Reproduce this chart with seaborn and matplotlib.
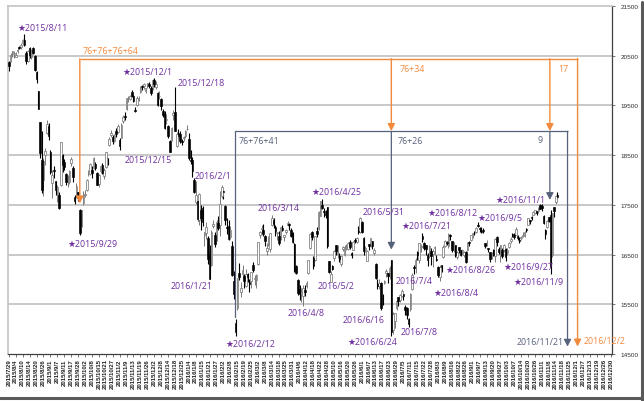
import matplotlib
matplotlib.use("Agg")
import matplotlib.pyplot as plt
from matplotlib.lines import Line2D
import numpy as np
import pandas as pd
import seaborn as sns

# ---------------- data (Nikkei 225 daily candles, 2015/7/29 - 2016/11/15) ----------------
OPEN = [
    20370, 20390, 20560,
    20540, 20480, 20600, 20680, 20670, 20760, 20820, 20560, 20400, 20660, 20470, 20650, 20490, 20170, 19790, 19160, 18400, 18000, 18500, 18950, 19080,
    18570, 17940, 18200, 17970, 17600, 17700, 17900, 18500, 18370, 18120, 17960, 17950, 18350, 18250, 17650, 17730, 17750, 17400, 17100,
    17530, 17690, 17800, 18170, 18130, 18200, 18250, 18330, 18150, 17920, 18180, 18300, 18090, 18260, 18440, 18700, 18900, 18870, 18790, 18980, 18960,
    18810, 18850, 19180, 19280, 19420, 19640, 19620, 19780, 19680, 19400, 19500, 19610, 19780, 19900, 19900, 19800, 19920, 19940, 19850,
    19840, 20010, 19880, 19760, 19680, 19620, 19380, 19320, 19210, 19080, 18790, 18800, 19300, 19370, 18690, 18950, 18930, 18770, 18850, 18880, 19020,
    18818, 18400, 18410, 18000, 17560, 17580, 17200, 17400, 17440, 16900, 16940, 16830, 16520, 16300, 17070, 16900, 16800, 17130, 17100,
    17680, 17780, 17470, 17050, 17070, 16860, 16670, 15960, 15120, 15420, 16130, 15750, 16110, 16070, 15860, 16110, 15950, 15960, 16290, 16010,
    15980, 16310, 16900, 17010, 16990, 16880, 16570, 16720, 16620, 17090, 17190, 17050, 16930, 16880, 16820, 17030, 16850, 16960, 17100, 17120, 16990, 16930,
    16720, 16280, 15990, 15800, 15700, 15660, 15780, 15860, 16130, 16640, 16960, 16440, 16400, 16980, 17020, 17280, 17500, 17360, 17340, 17450,
    16370, 15950, 16280, 16430, 16700, 16510, 16480, 16320, 16610, 16490, 16640, 16620, 16760, 16530, 16600, 16800, 16750, 16980, 16950,
    17150, 16830, 16570, 16380, 16710, 16690, 16770, 16540, 16310, 15910, 15860, 15920, 15620, 15930, 16120, 16130, 16070, 16400, 14980, 15160, 15420, 15640,
    15580, 15660, 15700, 15450, 15420, 15200, 15400, 15800, 16240, 16220, 16560, 16400, 16650, 16880, 16730, 16690, 16500, 16480, 16580, 16520,
    16630, 16400, 16250, 16050, 16300, 16460, 16680, 16750, 16680, 16890, 16770, 16600, 16700, 16450, 16650, 16590, 16560, 16500, 16550, 16600, 16760, 16800,
    16900, 16940, 16960, 17090, 17030, 16960, 16990, 16730, 16700, 16620, 16560, 16440, 16590, 16480, 16860, 16620, 16500, 16600, 16600, 16620,
    16530, 16650, 16780, 16910, 16900, 16900, 16880, 16790, 16830, 16870, 16880, 17000, 17100, 17200, 17260, 17300, 17330, 17370, 17370, 17500,
    17470, 17270, 17000, 17050, 17250, 17300, 16500, 17450, 17560, 17700,
]
HIGH = [
    20400, 20560, 20600,
    20590, 20580, 20660, 20700, 20760, 20830, 20946, 20590, 20620, 20680, 20630, 20670, 20510, 20190, 19800, 19170, 18990, 18440, 18650, 19200, 19150,
    18600, 18200, 18290, 17980, 17890, 17760, 18770, 18520, 18420, 18140, 18110, 18200, 18460, 18290, 17700, 17940, 17760, 17410, 17400,
    17770, 17790, 18020, 18200, 18350, 18280, 18460, 18370, 18160, 18130, 18300, 18340, 18240, 18560, 18450, 18860, 19000, 18900, 18930, 19040, 19120,
    18840, 19150, 19300, 19360, 19650, 19690, 19710, 19810, 19700, 19460, 19680, 19690, 19900, 19920, 19960, 19860, 19950, 19980, 19900,
    20030, 20050, 19990, 19770, 19790, 19640, 19430, 19380, 19330, 19100, 18800, 19070, 19400, 19870, 18960, 19020, 18990, 18820, 18890, 19000, 19110,
    18951, 18600, 18470, 18040, 17980, 17600, 17730, 17490, 17480, 16960, 17150, 16880, 16700, 16990, 17200, 16960, 17200, 17270, 17780,
    17905, 17800, 17500, 17230, 17190, 17080, 16770, 16160, 15210, 16030, 16340, 15950, 16290, 16110, 16200, 16130, 16000, 16140, 16350, 16080,
    16100, 16750, 16980, 17100, 17110, 16900, 16740, 16880, 16940, 17290, 17230, 17100, 16960, 16970, 17060, 17100, 16900, 17020, 17170, 17140, 17030, 16960,
    16740, 16300, 16010, 15880, 15830, 15880, 15880, 15970, 16400, 16930, 16980, 16480, 16880, 17050, 17380, 17580, 17613, 17440, 17400, 17460,
    16380, 16160, 16300, 16600, 16700, 16690, 16530, 16500, 16680, 16700, 16710, 16760, 16790, 16550, 16770, 16830, 16850, 17070, 17251,
    17180, 16850, 16680, 16600, 16720, 16840, 16780, 16640, 16330, 16000, 16000, 15950, 15700, 15990, 16200, 16130, 16280, 16400, 15350, 15330, 15590, 15650,
    15710, 15800, 15720, 15490, 15450, 15230, 15720, 16130, 16300, 16430, 16580, 16730, 16720, 16938, 16750, 16700, 16530, 16700, 16630, 16610,
    16670, 16500, 16270, 16300, 16300, 16700, 16790, 16780, 16943, 16920, 16780, 16760, 16700, 16580, 16650, 16600, 16620, 16580, 16580, 16760, 16780, 16900,
    16930, 16980, 17050, 17160, 17060, 17050, 17040, 16740, 16800, 16640, 16560, 16560, 16620, 16830, 16870, 16650, 16690, 16640, 16720, 16630,
    16630, 16750, 16850, 16930, 16930, 17050, 16900, 16860, 16880, 16950, 16970, 17030, 17240, 17200, 17270, 17370, 17400, 17370, 17450, 17520,
    17520, 17300, 17020, 17200, 17250, 17400, 17344, 17460, 17700, 17750,
]
LOW = [
    20200, 20370, 20480,
    20460, 20470, 20560, 20630, 20640, 20720, 20690, 20340, 20380, 20460, 20440, 20530, 20200, 19950, 19430, 18450, 17730, 17680, 18300, 18920, 18800,
    18120, 17640, 18050, 17700, 17550, 17410, 17880, 18160, 18200, 17900, 17850, 17910, 18280, 17950, 17510, 17640, 17580, 16901, 17050,
    17490, 17650, 17770, 18090, 18100, 18050, 18220, 18200, 17890, 17860, 18150, 18130, 18030, 18240, 18300, 18690, 18870, 18730, 18760, 18860, 18950,
    18600, 18840, 19140, 19200, 19410, 19560, 19600, 19660, 19570, 19370, 19490, 19580, 19750, 19810, 19830, 19760, 19850, 19860, 19700,
    19810, 19880, 19840, 19490, 19630, 19400, 19260, 19030, 19130, 18850, 18562, 18780, 19210, 18980, 18660, 18830, 18740, 18710, 18780, 18840, 19000,
    18394, 18330, 18070, 17730, 17510, 17180, 17100, 16990, 17080, 16680, 16810, 16320, 16017, 16280, 17030, 16660, 16780, 16990, 16880,
    17640, 17620, 17100, 16910, 16790, 16810, 16060, 15600, 14865, 15390, 15980, 15640, 16020, 15830, 15850, 15940, 15750, 15830, 16140, 15880,
    15830, 16300, 16830, 16930, 16880, 16680, 16500, 16670, 16550, 17070, 17040, 16880, 16800, 16690, 16790, 16980, 16780, 16920, 17070, 17000, 16850, 16740,
    16150, 16110, 15680, 15580, 15550, 15470, 15660, 15820, 16100, 16620, 16800, 16200, 16380, 16850, 17000, 17270, 17410, 17250, 17240, 16640,
    16120, 15940, 16190, 16380, 16500, 16430, 16350, 16280, 16580, 16480, 16600, 16590, 16610, 16440, 16600, 16740, 16730, 16920, 16940,
    16930, 16500, 16550, 16370, 16600, 16650, 16620, 16500, 16000, 15800, 15800, 15390, 15480, 15900, 16050, 15920, 16000, 14864, 14900, 15030, 15380, 15470,
    15540, 15640, 15590, 15290, 15200, 15050, 15370, 15790, 16100, 16130, 16400, 16330, 16560, 16750, 16600, 16500, 16270, 16430, 16300, 16250,
    16500, 16380, 16050, 15960, 16150, 16440, 16650, 16700, 16640, 16800, 16550, 16560, 16450, 16420, 16530, 16470, 16520, 16460, 16340, 16580, 16680, 16780,
    16840, 16890, 16940, 17050, 16960, 16930, 16930, 16640, 16680, 16550, 16360, 16420, 16470, 16350, 16680, 16520, 16350, 16430, 16560, 16380,
    16500, 16640, 16740, 16850, 16820, 16900, 16800, 16740, 16800, 16860, 16860, 16950, 17090, 17120, 17200, 17290, 17320, 17290, 17340, 17410,
    17380, 17120, 16820, 17040, 17150, 16111, 16460, 17250, 17520, 17620,
]
CLOSE = [
    20302, 20522, 20585,
    20548, 20520, 20614, 20664, 20724, 20808, 20720, 20392, 20595, 20519, 20620, 20554, 20222, 20033, 19435, 18540, 17806, 18376, 18574, 19136, 18890,
    18165, 18095, 18182, 17792, 17860, 17427, 18770, 18299, 18264, 17965, 18026, 18171, 18432, 18070, 17571, 17880, 17645, 16930, 17388,
    17722, 17725, 18005, 18186, 18322, 18141, 18438, 18234, 17891, 18096, 18291, 18131, 18207, 18554, 18435, 18825, 18947, 18777, 18903, 18935, 19083,
    18683, 19116, 19265, 19265, 19642, 19671, 19697, 19691, 19596, 19393, 19649, 19649, 19859, 19879, 19924, 19847, 19944, 19883, 19747,
    20012, 19938, 19939, 19504, 19698, 19492, 19301, 19046, 19230, 18883, 18565, 19049, 19353, 18986, 18916, 18886, 18789, 18769, 18873, 18982, 19033,
    18450, 18374, 18191, 17767, 17697, 17218, 17715, 17240, 17147, 16955, 17048, 16416, 16017, 16958, 17110, 16708, 17163, 17041, 17518,
    17865, 17750, 17191, 17044, 16819, 17004, 16085, 15713, 14952, 16022, 16054, 15836, 16196, 15967, 16111, 16052, 15915, 16140, 16188, 16026,
    16085, 16747, 16960, 17014, 16911, 16783, 16642, 16852, 16938, 17233, 17117, 16974, 16936, 16724, 17048, 17000, 16892, 17002, 17134, 17103, 16878, 16758,
    16164, 16123, 15732, 15715, 15749, 15821, 15751, 15928, 16381, 16911, 16848, 16275, 16874, 16906, 17363, 17572, 17439, 17353, 17290, 16666,
    16147, 16106, 16216, 16565, 16579, 16646, 16412, 16466, 16652, 16644, 16646, 16736, 16654, 16498, 16757, 16772, 16834, 16955, 17234,
    16955, 16562, 16642, 16580, 16675, 16830, 16668, 16601, 16019, 15859, 15919, 15434, 15599, 15965, 16169, 16065, 16238, 14952, 15309, 15323, 15566, 15575,
    15682, 15775, 15669, 15378, 15276, 15106, 15708, 16095, 16231, 16385, 16497, 16723, 16681, 16810, 16627, 16620, 16383, 16664, 16476, 16569,
    16635, 16391, 16083, 16254, 16254, 16650, 16764, 16735, 16919, 16869, 16596, 16745, 16486, 16545, 16598, 16497, 16597, 16555, 16360, 16737, 16725, 16887,
    16926, 16925, 17037, 17081, 17012, 16958, 16965, 16672, 16729, 16614, 16405, 16519, 16492, 16807, 16754, 16544, 16683, 16465, 16693, 16449,
    16598, 16735, 16819, 16899, 16860, 17024, 16840, 16774, 16856, 16900, 16963, 16998, 17235, 17184, 17234, 17365, 17391, 17336, 17446, 17425,
    17442, 17134, 16905, 17177, 17171, 16251, 17344, 17374, 17672, 17668,
]

# category axis: trading days 2015/7/29 .. 2016/12/30, one label every 4 trading days
TICK_LABELS = [
    "2015/7/29", "2015/8/4", "2015/8/10", "2015/8/14", "2015/8/20", "2015/8/26", "2015/9/1", "2015/9/7",
    "2015/9/11", "2015/9/17", "2015/9/28", "2015/10/2", "2015/10/8", "2015/10/15", "2015/10/21", "2015/10/27",
    "2015/11/2", "2015/11/9", "2015/11/13", "2015/11/19", "2015/11/26", "2015/12/2", "2015/12/8", "2015/12/14",
    "2015/12/18", "2015/12/25", "2016/1/4", "2016/1/8", "2016/1/15", "2016/1/21", "2016/1/27", "2016/2/2",
    "2016/2/8", "2016/2/15", "2016/2/19", "2016/2/25", "2016/3/2", "2016/3/8", "2016/3/14", "2016/3/18",
    "2016/3/25", "2016/3/31", "2016/4/6", "2016/4/12", "2016/4/18", "2016/4/22", "2016/4/28", "2016/5/10",
    "2016/5/16", "2016/5/20", "2016/5/26", "2016/6/1", "2016/6/7", "2016/6/13", "2016/6/17", "2016/6/23",
    "2016/6/29", "2016/7/5", "2016/7/11", "2016/7/15", "2016/7/22", "2016/7/28", "2016/8/3", "2016/8/9",
    "2016/8/16", "2016/8/22", "2016/8/26", "2016/9/1", "2016/9/7", "2016/9/13", "2016/9/20", "2016/9/27",
    "2016/10/3", "2016/10/7", "2016/10/14", "2016/10/20", "2016/10/26", "2016/11/1", "2016/11/8", "2016/11/14",
    "2016/11/18", "2016/11/25", "2016/12/1", "2016/12/7", "2016/12/13", "2016/12/19", "2016/12/26", "2016/12/30",
]
TICK_STEP = 4
Y_TICKS = [14500, 15500, 16500, 17500, 18500, 19500, 20500, 21500]

# annotations (text, category position, price level)
PURPLE_TEXT = ["★2015/8/11", "★2015/12/1", "2015/12/18", "2015/12/15", "2016/2/1", "★2015/9/29",
               "2016/1/21", "★2016/2/12", "2016/3/14", "★2016/4/25", "2016/5/31", "2016/5/2",
               "2016/4/8", "2016/6/16", "★2016/6/24", "★2016/7/21", "2016/7/4", "2016/7/8",
               "★2016/8/12", "★2016/9/5", "★2016/8/26", "★2016/8/4", "★2016/9/27", "★2016/11/9",
               "★2016/11/1"]
PURPLE_X = [4.7, 65.4, 97.7, 67.1, 107.5, 33.6, 93.7, 124.9, 143.9, 175.1, 204.6, 178.6,
            161.3, 193.0, 195.9, 227.1, 223.6, 226.5, 241.6, 271.0, 252.5, 245.6, 286.0, 291.8,
            281.4]
PURPLE_Y = [21060, 20180, 19960, 18420, 18100, 16720, 15880, 14720, 17440, 17760, 17360, 15880,
            15340, 15200, 14760, 17080, 15980, 14960, 17340, 17240, 16200, 15740, 16260, 15960,
            17600]

ORANGE_TEXT = ["76+76+76+64", "76+34", "17", "2016/12/2"]
ORANGE_X = [42.8, 226.0, 317.2, 332.3]
ORANGE_Y = [20600, 20240, 20240, 14780]
SLATE_TEXT = ["76+76+41", "76+26", "9", "2016/11/21"]
SLATE_X = [133.0, 224.8, 305.7, 293.5]
SLATE_Y = [18800, 18800, 18820, 14760]

# count boxes (category positions / price levels)
ORANGE_BOX_X = [41, 221, 312.6, 328.6]      # left, arrow, arrow, right
ORANGE_BOX_TOP = 20440
ORANGE_BOX_ENDS = [17530, 18985, 18985, 14650]
SLATE_BOX_X = [130.8, 221, 312.6, 322.8]
SLATE_BOX_TOP = 18980
SLATE_BOX_ENDS = [15250, 16600, 17600, 14650]

# ---------------- style ----------------
sns.set_theme(style="white")
plt.rcParams["font.family"] = ["Open Sans", "DejaVu Sans"]

ORANGE = "#F28A3E"
SLATE = "#56627A"
PURPLE = "#7030A0"
GRID = "#C4C4C4"

fig = plt.figure(figsize=(6.44, 4.02), dpi=100)
fig.patch.set_facecolor("white")
ax = fig.add_axes([8 / 644, 1 - 355 / 402, 604 / 644, 348 / 402])
ax.set_facecolor("white")

n_cat = (len(TICK_LABELS) - 1) * TICK_STEP + 1
df = pd.DataFrame({"o": OPEN, "h": HIGH, "l": LOW, "c": CLOSE})
df["x"] = np.arange(len(df))
df["up"] = df["c"] >= df["o"]
df["h"] = df[["h", "o", "c"]].max(axis=1)
df["l"] = df[["l", "o", "c"]].min(axis=1)
df["bottom"] = df[["o", "c"]].min(axis=1)
df["height"] = (df["c"] - df["o"]).abs().clip(lower=15)

ax.set_xlim(-0.5, n_cat - 0.5)
ax.set_ylim(Y_TICKS[0], Y_TICKS[-1])

# grid
for yv in Y_TICKS[1:-1]:
    ax.axhline(yv, color=GRID, lw=1.3, zorder=0)

up = df[df["up"]]
dn = df[~df["up"]]
ax.vlines(up["x"], up["l"], up["h"], color="#7A7A7A", lw=0.7, zorder=2)
ax.vlines(dn["x"], dn["l"], dn["h"], color="black", lw=0.8, zorder=2)
ax.bar(up["x"], up["height"], bottom=up["bottom"], width=0.9, color="white",
       edgecolor="#7A7A7A", linewidth=0.55, zorder=3)
ax.bar(dn["x"], dn["height"], bottom=dn["bottom"], width=0.9, color="black",
       edgecolor="black", linewidth=0.45, zorder=3)


def draw_box(xs, top, ends, color, lw):
    ax.plot([xs[0], xs[-1]], [top, top], color=color, lw=lw, zorder=4, solid_capstyle="butt")
    for i, (xv, ye) in enumerate(zip(xs, ends)):
        if i == 0 and color == SLATE:
            ax.plot([xv, xv], [top, ye], color=color, lw=lw, zorder=4)
            continue
        ax.annotate("", xy=(xv, ye), xytext=(xv, top),
                    arrowprops=dict(arrowstyle="-|>,head_length=0.35,head_width=0.18",
                                    color=color, lw=lw, shrinkA=0, shrinkB=0),
                    zorder=4)


draw_box(SLATE_BOX_X, SLATE_BOX_TOP, SLATE_BOX_ENDS, SLATE, 0.9)
draw_box(ORANGE_BOX_X, ORANGE_BOX_TOP, ORANGE_BOX_ENDS, ORANGE, 1.0)

TXT = dict(fontsize=6.4, ha="left", va="center", zorder=6)
for t, xv, yv in zip(PURPLE_TEXT, PURPLE_X, PURPLE_Y):
    ax.text(xv, yv, t, color=PURPLE, **TXT)
for t, xv, yv in zip(ORANGE_TEXT, ORANGE_X, ORANGE_Y):
    ax.text(xv, yv, t, color=ORANGE, clip_on=False, **TXT)
for t, xv, yv in zip(SLATE_TEXT, SLATE_X, SLATE_Y):
    ax.text(xv, yv, t, color=SLATE, **TXT)

# axes
ax.set_xticks(np.arange(0, n_cat, TICK_STEP))
ax.set_xticklabels(TICK_LABELS, rotation=90, fontsize=4.3, color="#202020", fontweight="bold",
                   family=["Liberation Sans", "DejaVu Sans"])
ax.yaxis.tick_right()
ax.set_yticks(Y_TICKS)
ax.set_yticklabels([str(v) for v in Y_TICKS], fontsize=4.6, color="#303030",
                   family=["Liberation Sans", "DejaVu Sans"])
ax.tick_params(axis="x", length=2, width=0.5, pad=1, color="#404040", bottom=True)
ax.tick_params(axis="y", length=2, width=0.5, pad=4, color="#404040", right=True, left=False)
ax.grid(False)

for side in ["top", "left"]:
    ax.spines[side].set_color(GRID)
    ax.spines[side].set_linewidth(1.2)
for side in ["bottom", "right"]:
    ax.spines[side].set_color("#404040")
    ax.spines[side].set_linewidth(0.9)

# picture frame shadow (right and bottom)
fig.add_artist(Line2D([641.5 / 644, 641.5 / 644], [0, 1 - 3 / 402], transform=fig.transFigure,
                      color="#5A5A5A", lw=2.2))
fig.add_artist(Line2D([0, 641.5 / 644], [1 - 399 / 402, 1 - 399 / 402], transform=fig.transFigure,
                      color="#5A5A5A", lw=2.2))

fig.savefig("out.png", dpi=100, facecolor="white")
